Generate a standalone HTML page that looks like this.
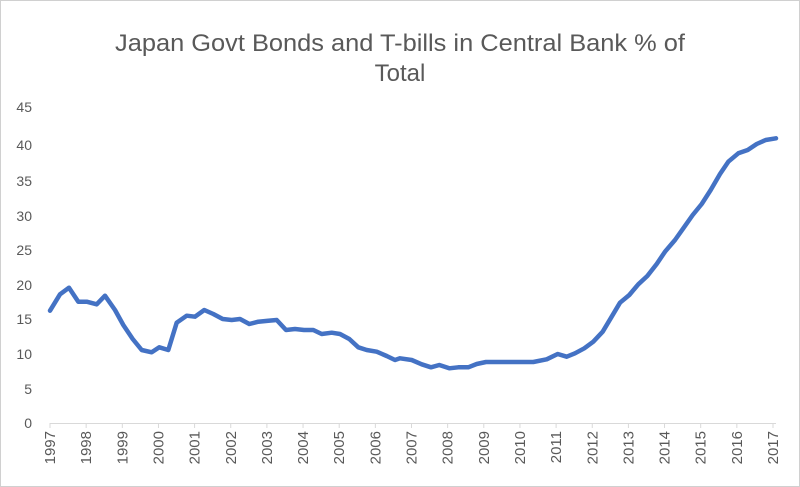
<!DOCTYPE html>
<html><head><meta charset="utf-8"><style>
html,body{margin:0;padding:0;background:#fff;}
svg{display:block;}
text{font-family:"Liberation Sans",sans-serif;fill:#595959;}
</style></head><body>
<svg width="800" height="487" viewBox="0 0 800 487" xmlns="http://www.w3.org/2000/svg">
<rect x="0.5" y="0.5" width="799" height="486" fill="#fff" stroke="#d0d0d0"/>
<text x="400" y="51" font-size="24" text-anchor="middle" textLength="570" lengthAdjust="spacingAndGlyphs">Japan Govt Bonds and T-bills in Central Bank % of</text>
<text x="400" y="81" font-size="24" text-anchor="middle">Total</text>
<g font-size="14" text-anchor="end">
<text x="32" y="112">45</text>
<text x="32" y="150">40</text>
<text x="32" y="186">35</text>
<text x="32" y="221">30</text>
<text x="32" y="255">25</text>
<text x="32" y="290">20</text>
<text x="32" y="324">15</text>
<text x="32" y="359">10</text>
<text x="32" y="394">5</text>
<text x="32" y="428">0</text>
</g>
<line x1="50" y1="423.5" x2="776" y2="423.5" stroke="#d9d9d9" stroke-width="1"/>
<g stroke="#d9d9d9" stroke-width="1" id="ticks"></g>
<g font-size="15" id="xl"></g>
<polyline fill="none" stroke="#4472c4" stroke-width="4.5" stroke-linejoin="round" stroke-linecap="round" points="50,310.7 60,294.3 69,287.7 78.3,301.7 86.7,301.7 96.7,304.3 105,295.7 115,310 123.3,325 132.7,339 141.7,350 151.7,352.3 159.3,347.3 168.3,350 176.7,322.7 186.7,315.7 195,316.7 204.3,310 213.3,314 222.7,319 231.7,320 240,319 249.3,324 258.3,321.7 268.3,320.7 276.7,320 286,330 295,329 304,330 313.3,330 321.7,334 331.7,332.7 340,334 349.3,339 358.3,347.3 366.7,350 376.7,351.7 386.7,356 395,360 400,358.3 411.7,360 421.7,364.3 431,367.3 439.3,365 449.3,368.3 458.3,367.3 468.3,367.3 476.7,364 486,362 500,362 533.3,362 546.7,359.3 557.7,354 566.7,356.7 575,353.3 584.3,348.3 593.3,341.7 602.7,331.7 610.7,318.3 620,302.7 629.3,295 638.3,284.3 647.3,276 656.7,264 665,251.7 675,240 683.3,228.3 692.7,215 701.7,204 710.7,190 720,174 728.3,161.7 738.3,153.3 747.7,150 756.7,144 765.7,140 776,138.3"/>
<script>
var t=document.getElementById('ticks'),l=document.getElementById('xl'),ns='http://www.w3.org/2000/svg';
for(var i=0;i<=20;i++){var x=50+i*36.15;
var ln=document.createElementNS(ns,'line');ln.setAttribute('x1',x);ln.setAttribute('x2',x);ln.setAttribute('y1',423);ln.setAttribute('y2',428);t.appendChild(ln);
var tx=document.createElementNS(ns,'text');tx.setAttribute('transform','translate('+(x+5)+',431) rotate(-90)');tx.setAttribute('text-anchor','end');tx.textContent=1997+i;l.appendChild(tx);}
</script>
</svg>
</body></html>
